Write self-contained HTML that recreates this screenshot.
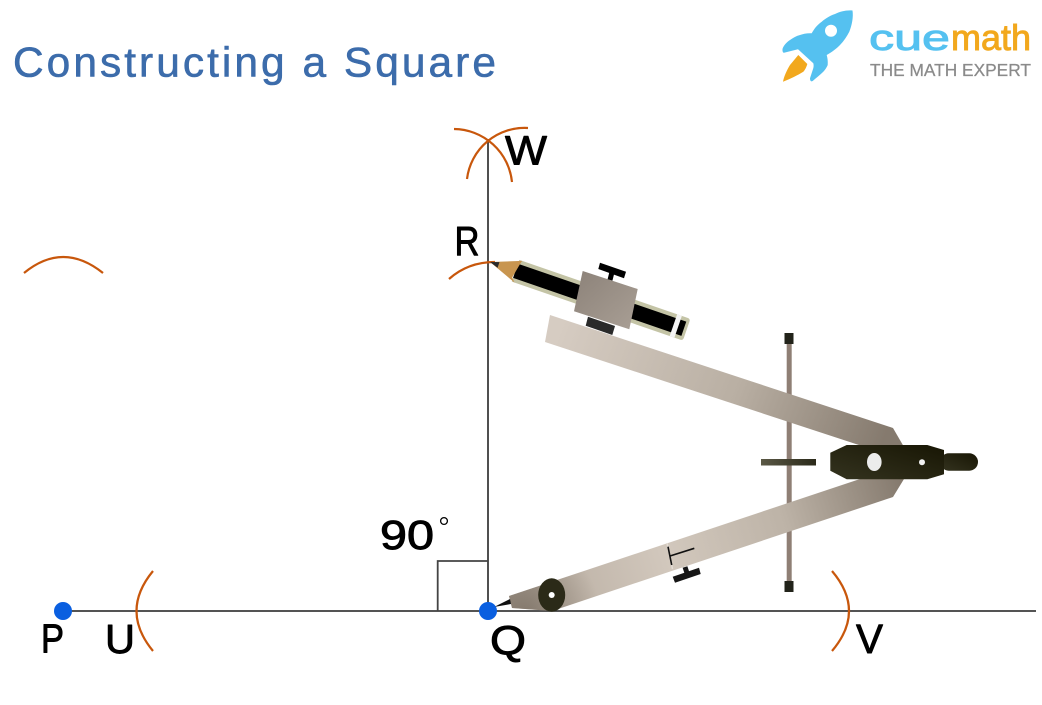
<!DOCTYPE html>
<html><head><meta charset="utf-8"><style>
html,body{margin:0;padding:0;background:#fff}
svg{display:block}
text{font-family:"Liberation Sans",sans-serif}
.l{fill:#000;font-size:41px;stroke:#000;stroke-width:.9px;stroke-linejoin:round}
</style></head><body>
<svg xmlns="http://www.w3.org/2000/svg" width="1042" height="705" viewBox="0 0 1042 705">
<defs>
<linearGradient id="up" gradientUnits="userSpaceOnUse" x1="560" y1="325" x2="880" y2="450"><stop offset="0" stop-color="#d6ccc2"/><stop offset=".55" stop-color="#b9afa3"/><stop offset="1" stop-color="#857a6e"/></linearGradient>
<linearGradient id="lo" gradientUnits="userSpaceOnUse" x1="510" y1="600" x2="900" y2="480"><stop offset="0" stop-color="#a89d91"/><stop offset=".12" stop-color="#bdb2a6"/><stop offset=".4" stop-color="#d2c8bd"/><stop offset=".7" stop-color="#bdb3a7"/><stop offset="1" stop-color="#857a6e"/></linearGradient>
<radialGradient id="sh" gradientUnits="userSpaceOnUse" cx="525" cy="614" r="75"><stop offset="0" stop-color="#7f7468" stop-opacity=".9"/><stop offset="1" stop-color="#7f7468" stop-opacity="0"/></radialGradient>
<linearGradient id="cl" x1="0" y1="0" x2="1" y2="1"><stop offset="0" stop-color="#8c8279"/><stop offset="1" stop-color="#a99f95"/></linearGradient>
<linearGradient id="hd" x1="0" y1="1" x2="1" y2="0"><stop offset="0" stop-color="#34331f"/><stop offset="1" stop-color="#181604"/></linearGradient>
<linearGradient id="hb" x1="0" y1="0" x2="1" y2="0"><stop offset="0" stop-color="#5a5845"/><stop offset="1" stop-color="#2b2a1a"/></linearGradient>
</defs>

<!-- title -->
<text x="13" y="76.5" font-size="42" letter-spacing="3" fill="#3c6cab" stroke="#3c6cab" stroke-width=".6" stroke-linejoin="round" textLength="486" lengthAdjust="spacingAndGlyphs">Constructing a Square</text>

<!-- logo -->
<path d="M852.5 10.5C846 10 840 11.5 835 14C829 16 825 19 821.7 21.7C817 25 814 29 811.7 33.3C807 33 803 34 800 35C796 36 793 38 790 40C787 42 784 45 782.7 48.3C782 51 783 53 784 52.7L798 49.3L813.3 63.3C814 66 813.5 68 812.7 70L810 78.3C810 81 811 82 812.7 81C816 78 820 75 823.3 71.7C825 70 827 67 827.7 65C828 61 827.5 58 826.7 55C832 52 836 49 840 45C844 41 847 36 849.3 31.7C852 25 853.5 17 852.5 10.5Z" fill="#55c1f0"/>
<circle cx="831" cy="30.7" r="6" fill="#fff"/>
<path d="M798.3 55L807.3 64C806.5 67 805 70 803.3 71.7C798 75 790 79 783 81.7C784 76 787 70 790 65Z" fill="#f2a81d"/>
<text x="869" y="50" font-size="36" fill="#55c1f0" stroke="#55c1f0" stroke-width=".9" textLength="81" lengthAdjust="spacingAndGlyphs">cue</text>
<text x="951" y="50" font-size="36" fill="#f2a81d" stroke="#f2a81d" stroke-width=".9" textLength="80" lengthAdjust="spacingAndGlyphs">math</text>
<text x="870" y="76" font-size="17.5" fill="#8a8a8a" stroke="#8a8a8a" stroke-width=".25" textLength="161" lengthAdjust="spacingAndGlyphs">THE MATH EXPERT</text>

<!-- construction lines -->
<line x1="63" y1="611" x2="1036" y2="611" stroke="#3c3c3c" stroke-width="1.8"/>
<line x1="488" y1="139" x2="488" y2="611" stroke="#505050" stroke-width="2"/>
<path d="M437.7 611V561H488" fill="none" stroke="#444" stroke-width="1.8"/>

<!-- arcs -->
<g fill="none" stroke="#c8570c" stroke-width="2.2">
<path d="M24 273Q63 241 103 273"/>
<path d="M153 571Q120 611 153 651"/>
<path d="M832 571Q866 611 832 651"/>
<path d="M454 129A59 59 0 0 1 512 182"/>
<path d="M528 128A58 58 0 0 0 467 179"/>
<path d="M449 279Q468 262 495 262"/>
</g>

<!-- compass rod -->
<rect x="786.7" y="340" width="5" height="245" fill="#8f7f75"/>
<rect x="784.5" y="333" width="9" height="11" fill="#22231a"/>
<rect x="784.5" y="581" width="9" height="11" fill="#22231a"/>

<!-- arms -->
<polygon points="550,315 893,428 904,447 865,447 545,342" fill="url(#up)"/>
<polygon points="509,596 860,479 904,479 893,497 552,611 512,608" fill="url(#lo)"/>
<polygon points="509,596 860,479 904,479 893,497 552,611 512,608" fill="url(#sh)"/>
<line x1="667" y1="543" x2="672.5" y2="569" stroke="#e4ddd5" stroke-width="1.5"/>
<rect x="761" y="459" width="55" height="6.5" fill="url(#hb)"/>

<!-- head -->
<rect x="940" y="453.3" width="38" height="17.4" rx="8.7" fill="url(#hd)"/>
<polygon points="830.3,452.7 846.7,445 927.3,445 944,450 944,474.3 927.3,479.3 846.7,479.3 830.3,470.7" fill="url(#hd)"/>
<ellipse cx="874.3" cy="462" rx="7.3" ry="9" fill="#ececec"/>
<circle cx="922" cy="462.3" r="3" fill="#f2f2f2"/>

<!-- needle and pivot -->
<polygon points="494,607 510,599 511,604" fill="#111"/>
<ellipse cx="551.7" cy="595" rx="13.5" ry="16.7" fill="#2b2a18"/>
<circle cx="551.7" cy="595" r="3" fill="#fff"/>

<!-- lower arm screw -->
<path d="M668 546.7L671.7 565M670 556L694.3 548.3" stroke="#111" stroke-width="1.6" fill="none"/>
<line x1="685" y1="567" x2="688" y2="576" stroke="#161616" stroke-width="5"/>
<polygon points="672.7,576.7 699,567.7 700.7,574 675,582.7" fill="#161616"/>

<!-- pencil -->
<polygon points="588,316.7 615,326 612.3,335 585.7,325.7" fill="#2a2a2a"/>
<g transform="translate(490 262) rotate(19)">
<path d="M27 -11.5H205Q208 -11.5 208 -8.5V8.5Q208 11.5 205 11.5H27Z" fill="#c4c4a6"/>
<rect x="27" y="-7.5" width="178" height="15" fill="#000"/>
<rect x="194" y="-11.5" width="5" height="23" fill="#f4f4f4"/>
<polygon points="0,0 30,-11.5 29,-7.5 26,7.5 30,11.5" fill="#c8954f"/>
<polygon points="0,0 9,-3 9,3" fill="#2a2a2a"/>
</g>
<polygon points="600,262.7 626,271.7 624,278.3 598.3,269" fill="#000"/>
<line x1="613" y1="268" x2="610" y2="280" stroke="#000" stroke-width="5"/>
<polygon points="582.7,271 637.7,289 629.3,329.3 574,311.3" fill="url(#cl)"/>

<!-- points -->
<circle cx="63" cy="611" r="9" fill="#0a5fe0"/>
<circle cx="488" cy="611" r="9" fill="#0a5fe0"/>

<!-- labels -->
<text class="l" x="505" y="164.5" textLength="42" lengthAdjust="spacingAndGlyphs">W</text>
<text class="l" x="454.5" y="255" textLength="25" lengthAdjust="spacingAndGlyphs">R</text>
<text class="l" x="380" y="549" textLength="54" lengthAdjust="spacingAndGlyphs">90</text>
<circle cx="444" cy="521" r="3.4" fill="none" stroke="#000" stroke-width="1.3"/>
<text class="l" x="41" y="652.5" textLength="23" lengthAdjust="spacingAndGlyphs">P</text>
<text class="l" x="105" y="653" textLength="30" lengthAdjust="spacingAndGlyphs">U</text>
<text class="l" x="490" y="654.5" textLength="36" lengthAdjust="spacingAndGlyphs">Q</text>
<text class="l" x="856" y="653" textLength="27" lengthAdjust="spacingAndGlyphs">V</text>
</svg>
</body></html>
